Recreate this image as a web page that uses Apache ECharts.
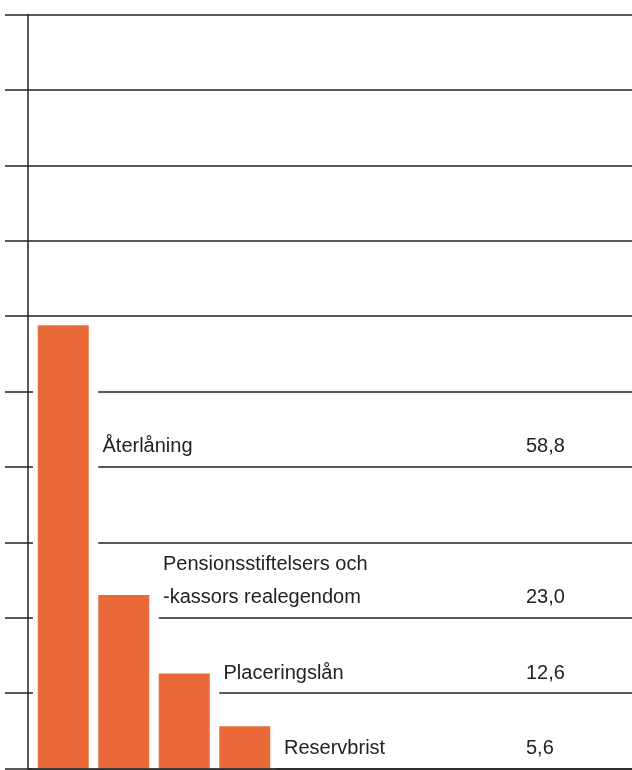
<!DOCTYPE html>
<html><head><meta charset="utf-8">
<script src="https://cdn.jsdelivr.net/npm/echarts@6/dist/echarts.min.js"></script>
<style>html,body{margin:0;padding:0;background:#fff}#c{width:632px;height:770px}</style>
</head><body><div id="c"></div>
<script>
// ---- data ----
const categories = ['Återlåning', 'Pensionsstiftelsers och\n-kassors realegendom', 'Placeringslån', 'Reservbrist'];
const values = [58.8, 23.0, 12.6, 5.6];
const axisMin = 0, axisMax = 100, axisInterval = 10;

// ---- layout (not data) ----
const labelLevels = [40, 20, 10, 0];   // gridline each label sits on
const valueColumnX = 526;
const ink = '#222222';
const orange = '#E96A38';
const font = 'Liberation Sans';

const chart = echarts.init(document.getElementById('c'), null, {renderer: 'canvas'});
const option = {
  animation: false,
  backgroundColor: '#ffffff',
  grid: [
    {left: 28, top: 14.5, right: 0, bottom: 1.5, containLabel: false},
    {left: 33, top: 14.5, width: 242, bottom: 1.5, containLabel: false}
  ],
  xAxis: [
    {gridIndex: 0, type: 'value', min: 0, max: 1, z: 10,
     axisLine: {show: true, lineStyle: {color: ink, width: 1.5}},
     axisTick: {show: false}, axisLabel: {show: false}, splitLine: {show: false}},
    {gridIndex: 1, type: 'category', data: categories, show: false},
    {gridIndex: 1, type: 'category', data: categories, show: false}
  ],
  yAxis: [
    {gridIndex: 0, type: 'value', min: axisMin, max: axisMax, interval: axisInterval,
     axisLine: {show: true, lineStyle: {color: ink, width: 1.5}},
     axisTick: {show: true, inside: false, length: 23, lineStyle: {color: ink, width: 1.5}},
     axisLabel: {show: false},
     splitLine: {show: true, lineStyle: {color: ink, width: 1.5}}},
    {gridIndex: 1, type: 'value', min: axisMin, max: axisMax, show: false}
  ],
  series: [
    {type: 'bar', xAxisIndex: 2, yAxisIndex: 1, data: values, barWidth: 70, z: 2,
     itemStyle: {color: '#ffffff'}, silent: true},
    {type: 'bar', xAxisIndex: 1, yAxisIndex: 1, data: values, barWidth: 51, z: 3,
     itemStyle: {color: orange}}
  ]
};
chart.setOption(option);

const p0 = chart.convertToPixel({xAxisIndex: 1}, 0);
const p1 = chart.convertToPixel({xAxisIndex: 1}, 1);
const halfBand = (p1 - p0) / 2;
const texts = [];
categories.forEach((c, i) => {
  const cx = chart.convertToPixel({xAxisIndex: 1}, i);
  const gy = chart.convertToPixel({yAxisIndex: 1}, labelLevels[i]);
  const common = {fill: ink, fontSize: 20, fontFamily: font, lineHeight: 33, verticalAlign: 'bottom', align: 'left'};
  texts.push({type: 'text', x: cx + halfBand + 9, y: gy - 3.5, z: 20,
    style: Object.assign({text: c}, common)});
  texts.push({type: 'text', x: valueColumnX, y: gy - 3.5, z: 20,
    style: Object.assign({text: values[i].toFixed(1).replace('.', ',')}, common)});
});
chart.setOption({graphic: texts});
</script>
</body></html>
